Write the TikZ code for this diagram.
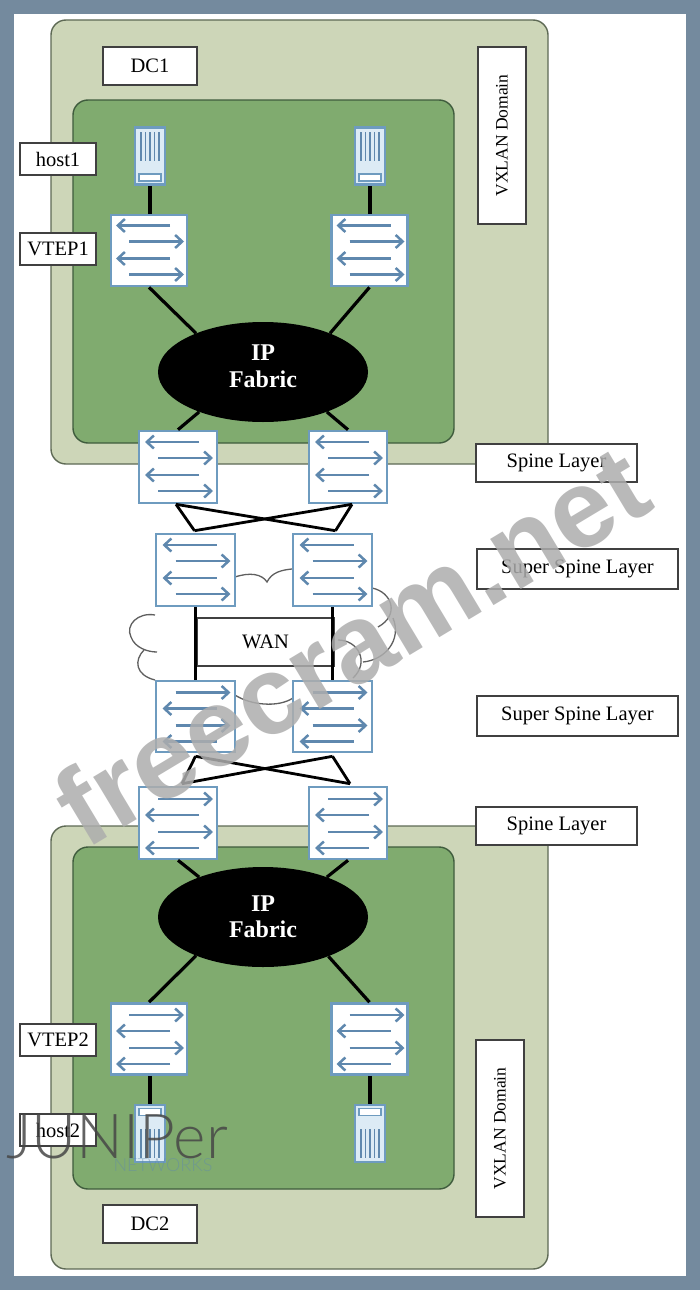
\documentclass[tikz,border=0pt]{standalone}
\usepackage{fontspec}
\setmainfont{Liberation Serif}
\newfontfamily\wmfont{Liberation Sans}
\newfontfamily\logofont{Lato Light}
\usetikzlibrary{shapes.geometric,calc,arrows.meta}
\definecolor{frame}{HTML}{748A9E}
\definecolor{outerg}{HTML}{CDD6B8}
\definecolor{innerg}{HTML}{80AB6F}
\definecolor{edgeo}{HTML}{5E6A55}
\definecolor{edgei}{HTML}{3F5C3D}
\definecolor{swedge}{HTML}{6E9BBF}
\definecolor{swarrow}{HTML}{5F88AE}
\definecolor{hostfill}{HTML}{DCEBF5}
\definecolor{cloudc}{HTML}{5F5F5F}
\tikzset{
  outerbox/.style={draw=edgeo,fill=outerg,line width=1.4pt,rounded corners=15pt},
  innerbox/.style={draw=edgei,fill=innerg,line width=1.4pt,rounded corners=15pt},
  lbl/.style={draw=black!75,fill=white,line width=1.2pt,inner sep=0pt,font=\fontsize{20.5}{24}\selectfont},
  lblv/.style={lbl,font=\fontsize{17.5}{20}\selectfont},
  swnode/.style={draw=swedge,fill=white,line width=2.6pt,inner sep=0pt,minimum width=#1},
  swnode/.default=76pt,
  hostnode/.style={draw=swedge,fill=hostfill,line width=2.6pt,inner sep=0pt,minimum width=30pt,minimum height=57pt},
  cable/.style={black,line width=3.2pt},
  thincable/.style={black,line width=2.8pt},
  cloudl/.style={cloudc,line width=1.3pt},
  flow/.style={swarrow,line width=2.5pt,-{Straight Barb[length=7pt,width=13pt,line width=2.5pt]}},
  ipnode/.style={ellipse,fill=black,text=white,inner sep=0pt,minimum width=210pt,minimum height=100pt,align=center,font=\fontsize{24}{27}\selectfont\bfseries},
}
\newcommand{\swflows}[2]{%
  \begin{scope}[shift={(#1.center)},yscale=#2]
    \draw[flow] (21,-25) -- (-33,-25);
    \draw[flow] (-20,-9) -- (35,-9);
    \draw[flow] (21,8) -- (-33,8);
    \draw[flow] (-20,24) -- (35,24);
  \end{scope}}
\newcommand{\hostmarks}[2]{%
  \begin{scope}[shift={(#1.center)},yscale=#2]
    \foreach \dx in {-9,-4.5,0,4.5,9} \draw[swarrow,line width=1.8pt] (\dx,-24) -- (\dx,5);
    \draw[swedge,line width=1.4pt,fill=white] (-11,18) rectangle (11,25);
  \end{scope}}
\begin{document}
\begin{tikzpicture}[x=1pt,y=-1pt]
\useasboundingbox (0,0) rectangle (700,1290);
\fill[frame] (0,0) rectangle (700,1290);
\fill[white] (14,14) rectangle (686,1276);
% domains
\draw[outerbox] (51,20) rectangle (548,464);
\draw[innerbox] (73,100) rectangle (454,443);
\draw[outerbox] (51,826) rectangle (548,1269);
\draw[innerbox] (73,847) rectangle (454,1189);
% clouds
\draw[cloudl] (155,615) .. controls (138,612) and (125,625) .. (131,637) .. controls (135,648) and (148,652) .. (157,652);
\draw[cloudl] (144,650) .. controls (134,660) and (135,675) .. (155,680);
\draw[cloudl] (235,577) .. controls (250,572) and (262,574) .. (267,582) .. controls (272,572) and (282,570) .. (292,569);
\draw[cloudl] (235,695) .. controls (250,705) and (278,708) .. (293,698);
\draw[cloudl] (372,588) .. controls (392,592) and (400,615) .. (378,627);
\draw[cloudl] (393,618) .. controls (402,640) and (385,660) .. (363,662);
\draw[cloudl] (338,640) .. controls (358,640) and (370,662) .. (353,678);
% nodes
\node[lbl,minimum width=94pt,minimum height=38pt] (dc1) at (150,66) {DC1};
\node[lbl,minimum width=76pt,minimum height=32pt] (h1l) at (58,159) {host1};
\node[lbl,minimum width=76pt,minimum height=32pt] (v1l) at (58,249) {VTEP1};
\node[lblv,minimum width=177pt,minimum height=48pt,rotate=90] (vx1) at (502,135.5) {VXLAN Domain};
\node[lbl,minimum width=161pt,minimum height=38pt] (sl1) at (556.5,463) {Spine Layer\hspace{8pt}};
\node[lbl,minimum width=201pt,minimum height=40pt] (ss1) at (577.5,569) {Super Spine Layer\hspace{4pt}};
\node[lbl,minimum width=137pt,minimum height=48pt] (wan) at (265.5,642) {WAN};
\node[lbl,minimum width=201pt,minimum height=40pt] (ss2) at (577.5,716) {Super Spine Layer\hspace{4pt}};
\node[lbl,minimum width=161pt,minimum height=38pt] (sl2) at (556.5,826) {Spine Layer\hspace{8pt}};
\node[lbl,minimum width=76pt,minimum height=32pt] (v2l) at (58,1040) {VTEP2};
\node[lbl,minimum width=76pt,minimum height=32pt] (h2l) at (58,1130) {host2};
\node[lbl,minimum width=94pt,minimum height=38pt] (dc2) at (150,1224) {DC2};
\node[lblv,minimum width=177pt,minimum height=48pt,rotate=90] (vx2) at (500,1128.5) {VXLAN Domain};
\node[ipnode] (ip1) at (263,372) {IP\\Fabric\\[-16pt]};
\node[ipnode] (ip2) at (263,917) {IP\\[-1pt]Fabric};
\node[hostnode] (h1) at (150,156) {};
\node[hostnode] (h2) at (370,156) {};
\node[hostnode] (h3) at (150,1133.5) {};
\node[hostnode] (h4) at (370,1133.5) {};
\node[swnode,minimum height=71pt] (v1) at (149,250.5) {};
\node[swnode,minimum height=71pt] (v2) at (369.5,250.5) {};
\node[swnode=78pt,minimum height=72pt] (s1) at (178,467) {};
\node[swnode=78pt,minimum height=72pt] (s2) at (348,467) {};
\node[swnode=79pt,minimum height=72pt] (t1) at (195.5,570) {};
\node[swnode=79pt,minimum height=72pt] (t2) at (332.5,570) {};
\node[swnode=79pt,minimum height=71pt] (u1) at (195.5,716.5) {};
\node[swnode=79pt,minimum height=71pt] (u2) at (332.5,716.5) {};
\node[swnode=78pt,minimum height=72pt] (s3) at (178,823) {};
\node[swnode=78pt,minimum height=72pt] (s4) at (348,823) {};
\node[swnode,minimum height=71pt] (v3) at (149,1039) {};
\node[swnode,minimum height=71pt] (v4) at (369.5,1039) {};
\foreach \n in {v1,v2,s1,s2,t1,t2} {\swflows{\n}{1}}
\foreach \n in {u1,u2,s3,s4,v3,v4} {\swflows{\n}{-1}}
\foreach \n in {h1,h2} {\hostmarks{\n}{1}}
\foreach \n in {h3,h4} {\hostmarks{\n}{-1}}
% connectors
\draw[cable] (h1.south) -- (h1.south |- v1.north);
\draw[cable] (h2.south) -- (h2.south |- v2.north);
\draw[cable] (v1.south) -- (ip1.150);
\draw[cable] (v2.south) -- (ip1.30);
\draw[cable] (ip1.212) -- (s1.north);
\draw[cable] (ip1.-32) -- (s2.north);
\draw[thincable] ($(s1.south)+(-2,0)$) -- ($(t2.north)+(3,-2)$);
\draw[thincable] ($(s2.south)+(4,0)$) -- ($(t1.north)+(-1,-2)$);
\draw[thincable] ($(s1.south)+(-2,0)$) -- ($(t1.north)+(-1,-2)$);
\draw[thincable] ($(s2.south)+(4,0)$) -- ($(t2.north)+(3,-2)$);
\draw[cable] (t1.south) -- (u1.north);
\draw[cable] (t2.south) -- (u2.north);
\draw[thincable] ($(u1.south)+(0,3)$) -- ($(s4.north)+(2,-2)$);
\draw[thincable] ($(u2.south)+(0,3)$) -- ($(s3.north)+(4,-2)$);
\draw[thincable] ($(u1.south)+(0,3)$) -- ($(s3.north)+(4,-2)$);
\draw[thincable] ($(u2.south)+(0,3)$) -- ($(s4.north)+(2,-2)$);
\draw[cable] (s3.south) -- (ip2.148);
\draw[cable] (s4.south) -- (ip2.32);
\draw[cable] (ip2.-150) -- (v3.north);
\draw[cable] (ip2.-31) -- (v4.north);
\draw[cable] (v3.south -| h3.north) -- (h3.north);
\draw[cable] (v4.south -| h4.north) -- (h4.north);
% watermarks
\node[rotate=31,text=black!32,opacity=.85,inner sep=0pt,font=\wmfont\fontsize{111}{111}\selectfont\bfseries] (wm) at (351,645) {freecram.net};
\node[text=black!72,opacity=.85,inner sep=0pt,font=\logofont\fontsize{62}{62}\selectfont] (jn) at (117,1137) {JUNIPer};
\node[text=swarrow,opacity=.5,inner sep=0pt,font=\logofont\fontsize{18}{18}\selectfont] (nw) at (163,1165) {NETWORKS};
\end{tikzpicture}
\end{document}
